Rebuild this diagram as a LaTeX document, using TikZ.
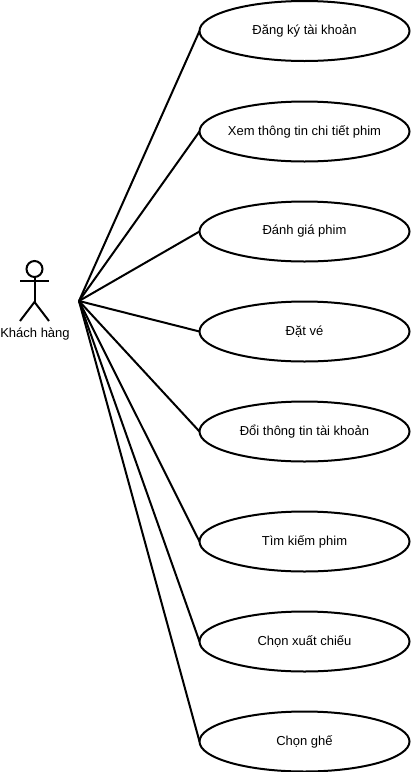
\documentclass[tikz,border=0pt]{standalone}
\usepackage{fontspec}
\setmainfont{Liberation Sans}
\usetikzlibrary{shapes.geometric}
\tikzset{
every picture/.style={
line width=1.5pt
},
usecase/.style={
draw, ellipse, inner sep=0pt, outer sep=0pt, minimum width=157.5pt, minimum height=45pt, font=\fontsize{9.75pt}{11pt}\selectfont
}}

\begin{document}
\begin{tikzpicture}[x=0.75pt,y=-0.75pt]
  \useasboundingbox (0,0) rectangle (411,772);

  % use cases
  \node [usecase] at (304.5, 31) (register) {Đăng ký tài khoản};
  % makebox so the long text does not widen the ellipse
  \node [usecase] at (304.5, 131.5) (details) {\makebox[0pt]{Xem thông tin chi tiết phim}};
  \node [usecase] at (304.5, 231.5) (review) {Đánh giá phim};
  \node [usecase] at (304.5, 331.5) (booking) {Đặt vé};
  \node [usecase] at (304.5, 431.5) (account) {Đổi thông tin tài khoản};
  \node [usecase] at (304.5, 541.5) (search) {Tìm kiếm phim};
  \node [usecase] at (304.5, 641.5) (showtime) {Chọn xuất chiếu};
  \node [usecase] at (304.5, 741.5) (seat) {Chọn ghế};

  % actor
  \node [draw, circle, inner sep=0pt, outer sep=0pt, minimum size=12pt] at (34.5, 269) (head) {};
  \coordinate (hip) at (34.5, 302);
  \coordinate (armL) at (20, 281);
  \coordinate (armR) at (49, 281);
  \coordinate (footL) at (20, 321);
  \coordinate (footR) at (49, 321);
  \draw (head.south) -- (hip);
  \draw (armL) -- (armR);
  \draw (footL) -- (hip) -- (footR);
  \node [font=\fontsize{9.75pt}{11pt}\selectfont] at (35, 334.5) (customer) {Khách hàng};

  % associations
  \coordinate (hub) at (79, 301);
  \draw (hub) -- (register.west);
  \draw (hub) -- (details.west);
  \draw (hub) -- (review.west);
  \draw (hub) -- (booking.west);
  \draw (hub) -- (account.west);
  \draw (hub) -- (search.west);
  \draw (hub) -- (showtime.west);
  \draw (hub) -- (seat.west);
\end{tikzpicture}
\end{document}
